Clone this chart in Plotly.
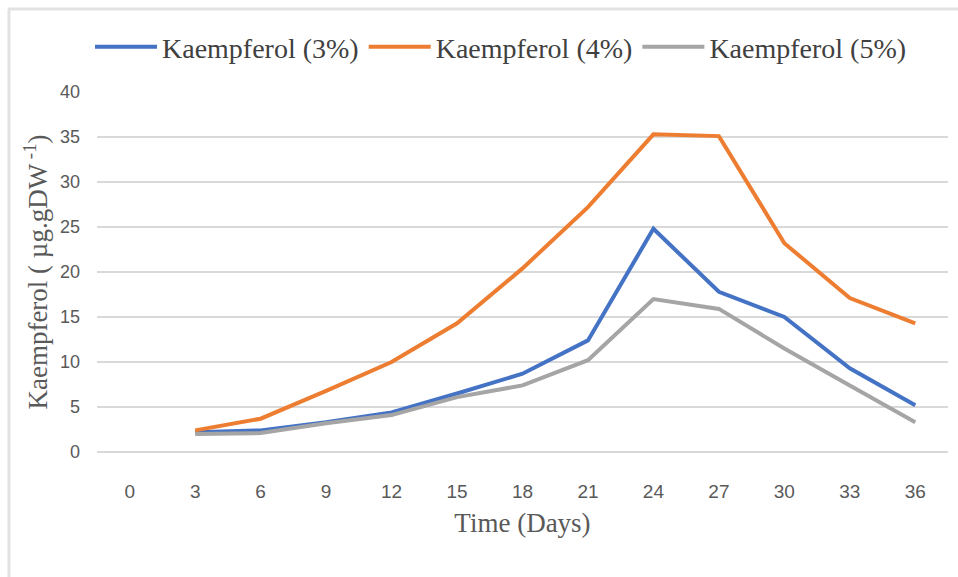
import plotly.graph_objects as go

# Sampling days (category axis, day 0 has no measurement)
days = ["0", "3", "6", "9", "12", "15", "18", "21", "24", "27", "30", "33", "36"]

# Kaempferol content (µg.gDW-1) per treatment
kaempferol_3 = [None, 2.2, 2.4, 3.3, 4.4, 6.5, 8.7, 12.4, 24.8, 17.8, 15.0, 9.3, 5.2]
kaempferol_4 = [None, 2.4, 3.7, 6.8, 10.0, 14.3, 20.4, 27.2, 35.3, 35.1, 23.2, 17.1, 14.3]
kaempferol_5 = [None, 2.0, 2.1, 3.2, 4.1, 6.1, 7.4, 10.2, 17.0, 15.9, 11.5, 7.4, 3.3]

series = [
    ("Kaempferol (3%)", kaempferol_3, "#4472C4"),
    ("Kaempferol (4%)", kaempferol_4, "#ED7D31"),
    ("Kaempferol (5%)", kaempferol_5, "#A5A5A5"),
]

W, H = 958, 577
ML, MR, MT, MB = 97, 10, 92, 125
PW, PH = W - ML - MR, H - MT - MB

fig = go.Figure()
for name, vals, color in series:
    fig.add_trace(go.Scatter(
        x=days, y=vals, name=name, mode="lines",
        line=dict(color=color, width=4),
        connectgaps=False,
    ))


def px_x(p):
    return (p - ML) / PW


def px_y(p):
    return (H - MB - p) / PH


frame_color = "#E2E2E2"
fig.add_shape(type="line", xref="paper", yref="paper",
              x0=px_x(9), x1=px_x(9), y0=px_y(9), y1=px_y(H + 5),
              line=dict(color=frame_color, width=3))
fig.add_shape(type="line", xref="paper", yref="paper",
              x0=px_x(8), x1=px_x(W + 5), y0=px_y(9), y1=px_y(9),
              line=dict(color=frame_color, width=3))

serif = "Liberation Serif, Times New Roman, serif"
sans = "Liberation Sans, Arial, sans-serif"

fig.update_layout(
    width=W, height=H,
    margin=dict(l=ML, r=MR, t=MT, b=MB),
    paper_bgcolor="white", plot_bgcolor="white",
    showlegend=True,
    legend=dict(
        orientation="h", x=px_x(501), xanchor="center",
        y=px_y(47), yanchor="middle",
        font=dict(family=serif, size=28, color="#404040"),
        bgcolor="rgba(0,0,0,0)", itemwidth=62, tracegroupgap=0,
    ),
    xaxis=dict(
        type="category", categoryorder="array", categoryarray=days,
        range=[-0.5, len(days) - 0.5],
        showgrid=False, zeroline=False, showline=False, ticks="",
        ticklabelstandoff=26,
        tickfont=dict(family=sans, size=19, color="#595959"),
        title=dict(text="Time (Days)", standoff=12,
                   font=dict(family=serif, size=27, color="#595959")),
    ),
    yaxis=dict(
        range=[0, 40], dtick=5, tick0=0,
        showgrid=True, gridcolor="#D9D9D9", gridwidth=1.5,
        zeroline=True, zerolinecolor="#D9D9D9", zerolinewidth=2,
        showline=False, ticks="",
        ticklabelstandoff=16,
        tickfont=dict(family=sans, size=18, color="#595959"),
        title=dict(text="Kaempferol ( µg.gDW<sup> -1</sup>)", standoff=4,
                   font=dict(family=serif, size=27, color="#595959")),
    ),
)

fig.write_html("out.html")
